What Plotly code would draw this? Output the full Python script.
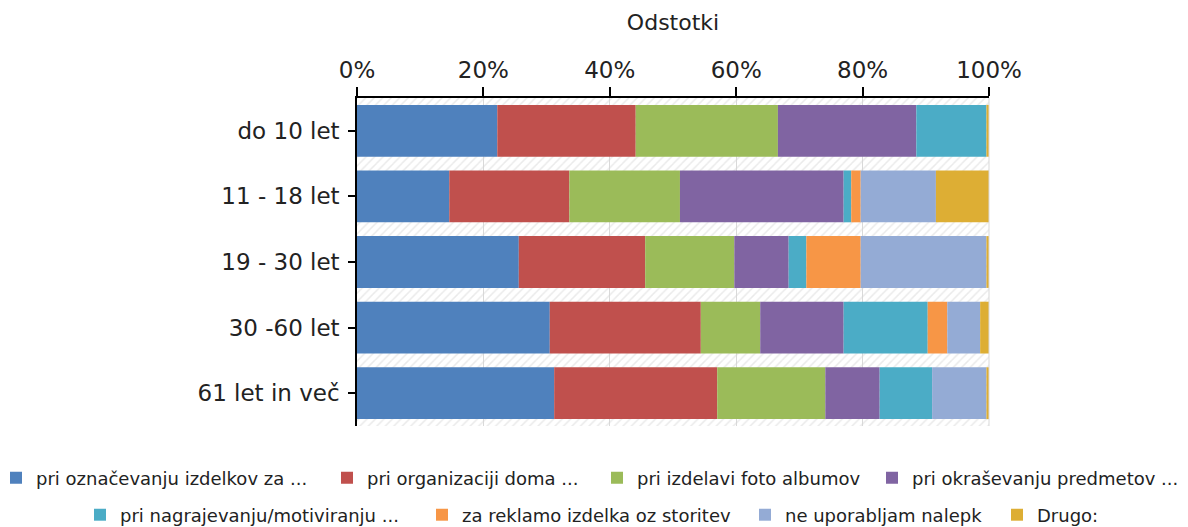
import numpy as np
import plotly.graph_objects as go

categories = ["do 10 let", "11 - 18 let", "19 - 30 let", "30 -60 let", "61 let in več"]

series_names = [
    "pri označevanju izdelkov za ...",
    "pri organizaciji doma ...",
    "pri izdelavi foto albumov",
    "pri okraševanju predmetov ...",
    "pri nagrajevanju/motiviranju ...",
    "za reklamo izdelka oz storitev",
    "ne uporabljam nalepk",
    "Drugo:",
]

oznacevanje = [22.2, 14.6, 25.6, 30.5, 31.2]
organizacija = [21.9, 19.0, 20.0, 23.9, 25.8]
foto_albumi = [22.5, 17.5, 14.1, 9.4, 17.1]
okrasevanje = [21.9, 25.9, 8.6, 13.2, 8.6]
nagrajevanje = [11.1, 1.2, 2.8, 13.3, 8.3]
reklama = [0.0, 1.5, 8.6, 3.1, 0.0]
ne_uporabljam = [0.0, 11.9, 19.9, 5.2, 8.6]
drugo = [0.4, 8.4, 0.4, 1.4, 0.4]

series_values = [oznacevanje, organizacija, foto_albumi, okrasevanje,
                 nagrajevanje, reklama, ne_uporabljam, drugo]

colors = ["#4F81BD", "#C0504D", "#9BBB59", "#8064A2",
          "#4BACC6", "#F79646", "#94ABD5", "#DDAE34"]

tick_vals = [0, 20, 40, 60, 80, 100]
tick_text = ["0%", "20%", "40%", "60%", "80%", "100%"]

FONT = "DejaVu Sans"
TXT = "#222222"

# page body adds an 8px offset, so the figure is sized to fit the window
W, H = 1180, 519
PAGE_OFF = 8

# plot area in figure pixels
PLOT_L, PLOT_W = 349, 632
PLOT_BOTTOM, PLOT_H = 418, 328

# legend entry placement (text start / row centre, in page pixels)
legend_text_x = [36, 367, 637, 912, 120, 462, 785, 1037]
legend_row_y = [478, 478, 478, 478, 515, 515, 515, 515]
LEG_TEXT_OFFSET = 40

fig = go.Figure()

# hatched background band behind the bars
fig.add_trace(go.Bar(
    y=categories, x=[100] * len(categories), base=[0] * len(categories),
    orientation="h", width=1.0,
    marker=dict(color="rgba(0,0,0,0)", line=dict(width=0),
                pattern=dict(shape="/", fgcolor="#D6D6D6", bgcolor="rgba(0,0,0,0)",
                             size=6, solidity=0.25)),
    showlegend=False, hoverinfo="skip",
))

vals = np.array(series_values)
bases = np.vstack([np.zeros(vals.shape[1]), np.cumsum(vals, axis=0)[:-1]])

legends = {}
for i, (name, v) in enumerate(zip(series_names, series_values)):
    key = "legend" if i == 0 else f"legend{i + 1}"
    fig.add_trace(go.Bar(
        y=categories, x=v, base=bases[i], orientation="h", name=name,
        width=0.79,
        marker=dict(color=colors[i], line=dict(width=0)),
        legend=key,
    ))
    lx = ((legend_text_x[i] - PAGE_OFF - LEG_TEXT_OFFSET) - PLOT_L) / PLOT_W
    ly = -((legend_row_y[i] - PAGE_OFF) - PLOT_BOTTOM) / PLOT_H
    legends[key] = dict(orientation="h", x=lx, xanchor="left", xref="paper",
                        y=ly, yanchor="middle", yref="paper",
                        font=dict(family=FONT, size=18, color=TXT),
                        bgcolor="rgba(0,0,0,0)", borderwidth=0)

fig.update_layout(
    width=W, height=H,
    barmode="overlay",
    paper_bgcolor="white", plot_bgcolor="white",
    margin=dict(l=PLOT_L, r=W - PLOT_L - PLOT_W, t=90, b=H - 90 - PLOT_H, autoexpand=False),
    font=dict(family=FONT, color=TXT, size=18),
    title=dict(text="Odstotki", x=665 / W, xanchor="center",
               y=1 - 14 / H, yanchor="middle",
               font=dict(family=FONT, size=22, color=TXT)),
    xaxis=dict(side="top", range=[0, 100], tickvals=tick_vals, ticktext=tick_text,
               showgrid=True, gridcolor="#D9D9D9", gridwidth=1,
               showline=True, linecolor="#000000", linewidth=1.5,
               ticks="outside", ticklen=9, tickcolor="#000000", tickwidth=1.5,
               tickfont=dict(family=FONT, size=23, color=TXT),
               zeroline=False, fixedrange=True, automargin=False),
    yaxis=dict(autorange="reversed", showline=True, linecolor="#000000", linewidth=1.5,
               ticks="outside", ticklen=7, tickcolor="#000000", tickwidth=1.5,
               tickfont=dict(family=FONT, size=23, color=TXT),
               showgrid=False, fixedrange=True, ticklabelstandoff=4, automargin=False),
    shapes=[dict(type="line", xref="paper", yref="paper", x0=1, x1=1, y0=0, y1=1,
                 line=dict(color="#D9D9D9", width=1))],
    **legends,
)

fig.write_html("out.html")
